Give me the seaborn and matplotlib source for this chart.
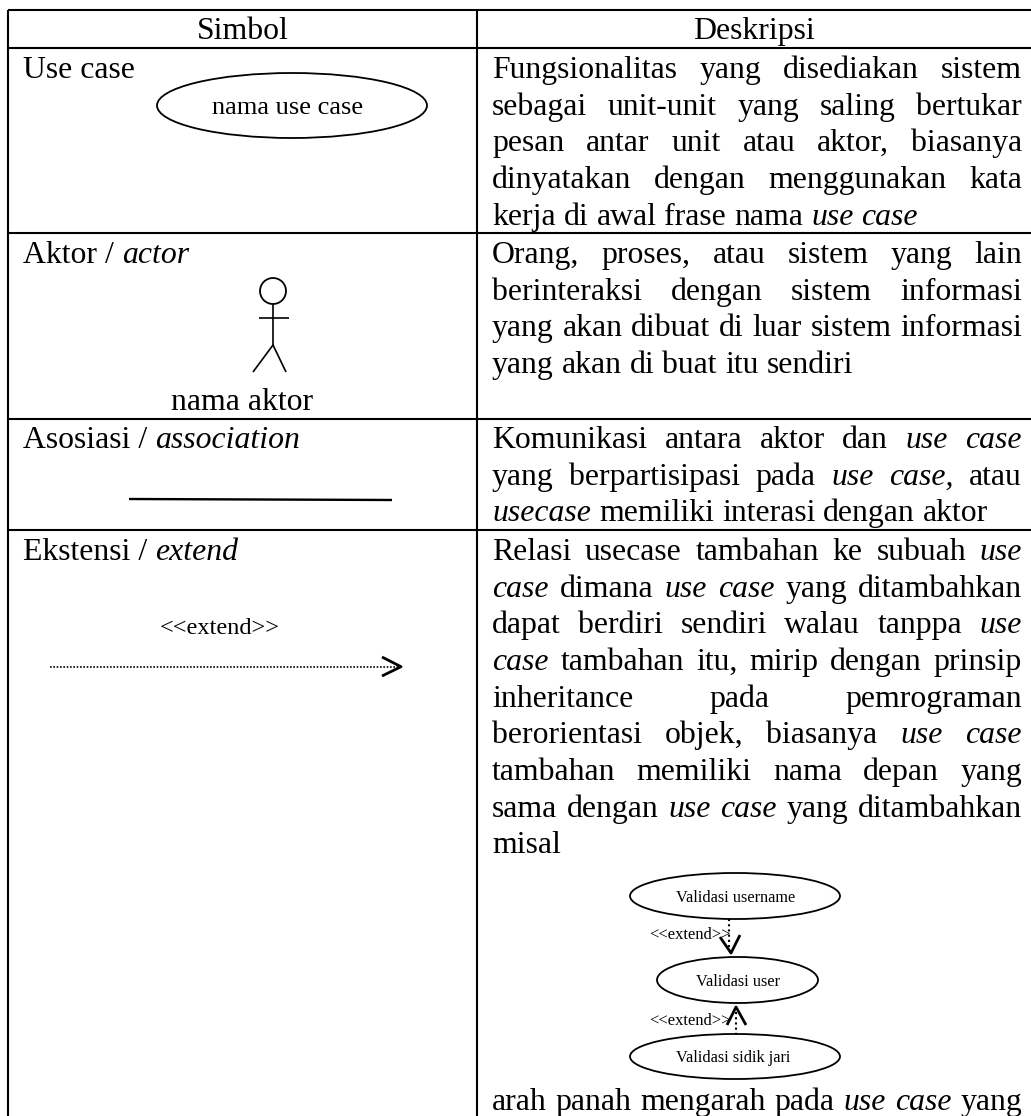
import matplotlib
matplotlib.use("Agg")
import matplotlib.pyplot as plt
from matplotlib.patches import Ellipse, Circle
import seaborn as sns

sns.set_theme(style="white")
plt.rcParams['font.family'] = ['Liberation Serif', 'DejaVu Serif']

headers = ["Simbol", "Deskripsi"]
symbol_names = [["Use case", ""], ["Aktor / ", "actor"], ["Asosiasi / ", "association"], ["Ekstensi / ", "extend"]]

# *word* = italic, trailing | = last line of a paragraph (not justified)
usecase_desc = ["Fungsionalitas yang disediakan sistem",
                "sebagai unit-unit yang saling bertukar",
                "pesan antar unit atau aktor, biasanya",
                "dinyatakan dengan menggunakan kata",
                "kerja di awal frase nama *use* *case*|"]
aktor_desc = ["Orang, proses, atau sistem yang lain",
              "berinteraksi dengan sistem informasi",
              "yang akan dibuat di luar sistem informasi",
              "yang akan di buat itu sendiri|"]
asosiasi_desc = ["Komunikasi antara aktor dan *use* *case*",
                 "yang berpartisipasi pada *use* *case,* atau",
                 "*usecase* memiliki interasi dengan aktor|"]
ekstensi_desc = ["Relasi usecase tambahan ke subuah *use*",
                 "*case* dimana *use* *case* yang ditambahkan",
                 "dapat berdiri sendiri walau tanppa *use*",
                 "*case* tambahan itu, mirip dengan prinsip",
                 "inheritance pada pemrograman",
                 "berorientasi objek, biasanya *use* *case*",
                 "tambahan memiliki nama depan yang",
                 "sama dengan *use* *case* yang ditambahkan",
                 "misal|"]
ekstensi_tail = ["arah panah mengarah pada *use* *case* yang"]

WIDTH, HEIGHT = 1031, 1116
fig = plt.figure(figsize=(WIDTH / 100, HEIGHT / 100), dpi=100)
ax = fig.add_axes([0, 0, 1, 1])
ax.set_axis_off()
renderer = fig.canvas.get_renderer()

FS = 22.9
LEFT, RIGHT = 492, 1022
PITCH = 36.65


def stroke(xs, ys, lw=1.5, ls="-"):
    sns.lineplot(x=xs, y=ys, sort=False, estimator=None, color="black", linewidth=lw,
                 linestyle=ls, solid_capstyle="butt", ax=ax, legend=False)


def word_width(word, italic):
    t = ax.text(0, 0, word, fontsize=FS, style="italic" if italic else "normal")
    w = t.get_window_extent(renderer).width
    t.remove()
    return w


def draw_line(line, y):
    last = line.endswith("|")
    tokens = [(w.strip("*"), w.startswith("*")) for w in line.rstrip("|").split(" ")]
    widths = [word_width(w, it) for w, it in tokens]
    gap = 8
    if not last and len(tokens) > 1:
        gap = (RIGHT - LEFT - sum(widths)) / (len(tokens) - 1)
    x = LEFT
    for (w, it), wd in zip(tokens, widths):
        ax.text(x, y, w, fontsize=FS, style="italic" if it else "normal", color="black", va="baseline")
        x += wd + gap


def draw_block(lines, y0):
    for i, line in enumerate(lines):
        draw_line(line, y0 + i * PITCH)


def label(x, y, normal, italic=""):
    t = ax.text(x, y, normal, fontsize=FS, color="black", va="baseline")
    if italic:
        w = t.get_window_extent(renderer).width
        ax.text(x + w, y, italic, fontsize=FS, style="italic", color="black", va="baseline")


def oval(x0, x1, y0, y1, text, fs, tx=None, dy=1.5, lw=1.3):
    ax.add_patch(Ellipse(((x0 + x1) / 2, (y0 + y1) / 2), x1 - x0, y1 - y0, fill=False, ec="black", lw=lw))
    ax.text(tx if tx else (x0 + x1) / 2, (y0 + y1) / 2 + dy, text, fontsize=fs, ha="center", va="center", color="black")


# table rules, the page crops the table on the right
for y in [10, 47.5, 232.5, 419, 529.5]:
    stroke([8, WIDTH], [y, y])
for x in [8, 477]:
    stroke([x, x], [10, HEIGHT])

ax.text(242.5, 39, headers[0], fontsize=FS, ha="center", va="baseline", color="black")
ax.text(754, 39, headers[1], fontsize=FS, ha="center", va="baseline", color="black")

for (normal, italic), y in zip(symbol_names, [78, 263, 448, 560]):
    label(23, y, normal, italic)

draw_block(usecase_desc, 78)
draw_block(aktor_desc, 263)
draw_block(asosiasi_desc, 448)
draw_block(ekstensi_desc, 560)
draw_block(ekstensi_tail, 1110)

# use case symbol
oval(157, 427, 73, 138, "nama use case", 19.0, tx=288, dy=3)

# actor
ax.add_patch(Circle((273, 291), 13, fill=False, ec="black", lw=1.3))
stroke([273, 273], [304, 345], lw=1.2)
stroke([259, 289], [318, 318], lw=1.2)
stroke([253, 273, 286], [372, 345, 372], lw=1.2)
ax.text(242, 410, "nama aktor", fontsize=FS, ha="center", va="baseline", color="black")

# association
stroke([129, 392], [499, 500], lw=1.7)

# extend
ax.text(220, 634, "<<extend>>", fontsize=17.5, ha="center", va="baseline", color="black")
stroke([50, 398], [666.7, 666.7], lw=1.2, ls=(0, (1, 1)))
stroke([382, 401, 382], [657, 666.7, 676], lw=2)

# use case example in the description
oval(630, 840, 873, 919, "Validasi username", 11.7, tx=736)
oval(657, 818, 957, 1003, "Validasi user", 11.7, tx=738)
oval(630, 840, 1034, 1079, "Validasi sidik jari", 11.7, tx=733)
ax.text(649, 935, "<<extend>>", fontsize=11.9, va="center", color="black")
ax.text(649, 1021, "<<extend>>", fontsize=11.9, va="center", color="black")
stroke([729, 729], [919, 948], lw=1.5, ls=(0, (1, 1.5)))
stroke([720, 731, 740], [937, 953, 935], lw=2)
stroke([736, 736], [1012, 1034], lw=1.5, ls=(0, (1, 1.5)))
stroke([727, 736, 746], [1025, 1007, 1025], lw=2)

ax.set_xlim(0, WIDTH)
ax.set_ylim(HEIGHT, 0)
fig.savefig("out.png", dpi=100, facecolor="white")
